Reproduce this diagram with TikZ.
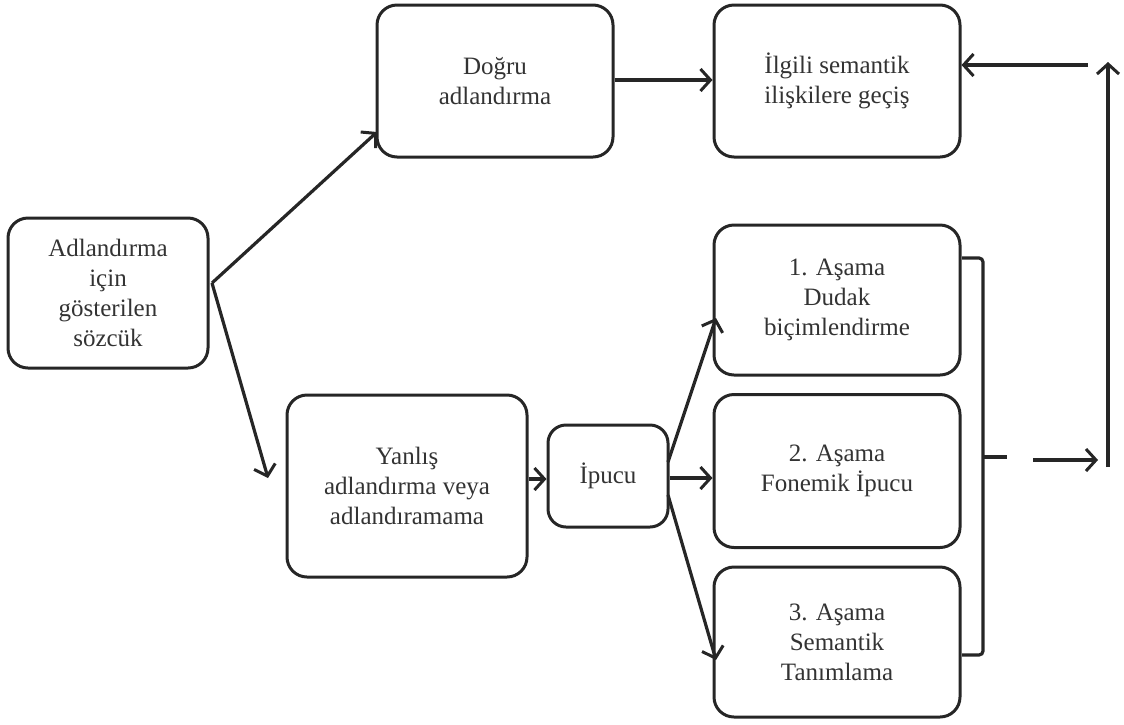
\documentclass[tikz,border=0pt]{standalone}
\usepackage{fontspec}
\setmainfont{Liberation Serif}
\usetikzlibrary{arrows.meta}
\begin{document}
\begin{tikzpicture}[x=1pt,y=1pt,
  box/.style={draw=black!85, line width=3pt, rounded corners=20pt, align=center,
    inner sep=0pt, font=\fontsize{25}{30}\selectfont, text=black!80},
  link/.style={draw=black!85, line width=3.2pt,
    -{Straight Barb[length=10pt,width=22pt,line width=3pt]}},
  line/.style={draw=black!85, line width=3.2pt}]
\useasboundingbox (0,0) rectangle (1124,-724);
% boxes
\node[box, minimum width=200, minimum height=150] (word) at (108,-293)
  {Adlandırma\\için\\gösterilen\\sözcük};
\node[box, minimum width=236, minimum height=152] (right) at (495,-81)
  {Doğru\\adlandırma};
\node[box, minimum width=246, minimum height=152] (sem) at (837,-81)
  {İlgili semantik\\ilişkilere geçiş};
\node[box, minimum width=240, minimum height=182] (wrong) at (407,-486)
  {Yanlış\\adlandırma veya\\adlandıramama};
\node[box, minimum width=120, minimum height=102, rounded corners=18pt] (cue) at (608,-476)
  {İpucu};
\node[box, minimum width=246, minimum height=150] (s1) at (837,-300)
  {1. Aşama\\Dudak\\biçimlendirme};
\node[box, minimum width=246, minimum height=153] (s2) at (837,-471)
  {2. Aşama\\Fonemik İpucu};
\node[box, minimum width=246, minimum height=150] (s3) at (837,-642)
  {3. Aşama\\Semantik\\Tanımlama};
% branch points
\coordinate (split) at (212,-283);
\coordinate (cueup) at (668,-462);
\coordinate (cuedown) at (668,-495);
% connectors
\draw[link] (split) -- (377,-132) coordinate (rightin);
\draw[link] (split) -- (268,-478) coordinate (wrongin);
\draw[link] (right.east |- 0,-80) -- (sem.west |- 0,-80);
\draw[link] (wrong.east |- 0,-479) -- (cue.west |- 0,-479);
\draw[link] (cue.east |- 0,-478) -- (s2.west |- 0,-478);
\draw[link] (cueup) -- (716,-318) coordinate (s1in);
\draw[link] (cuedown) -- (716,-660) coordinate (s3in);
% bracket over the three stages
\coordinate (bt) at (962,-258);
\coordinate (bb) at (962,-655);
\coordinate (bm) at (983,-457);
\draw[line, rounded corners=4pt] (bt) -- (983,-258) -- (983,-655) -- (bb);
\draw[line] (bm) -- (1007,-457);
\coordinate (gapl) at (1033,-460);
\coordinate (gapr) at (1098,-460);
\draw[link] (gapl) -- (gapr);
\coordinate (upb) at (1108,-467);
\coordinate (upt) at (1108,-62);
\draw[link] (upb) -- (upt);
\coordinate (back) at (1088,-65);
\draw[link] (back) -- (sem.east |- 0,-65);
\end{tikzpicture}
\end{document}
